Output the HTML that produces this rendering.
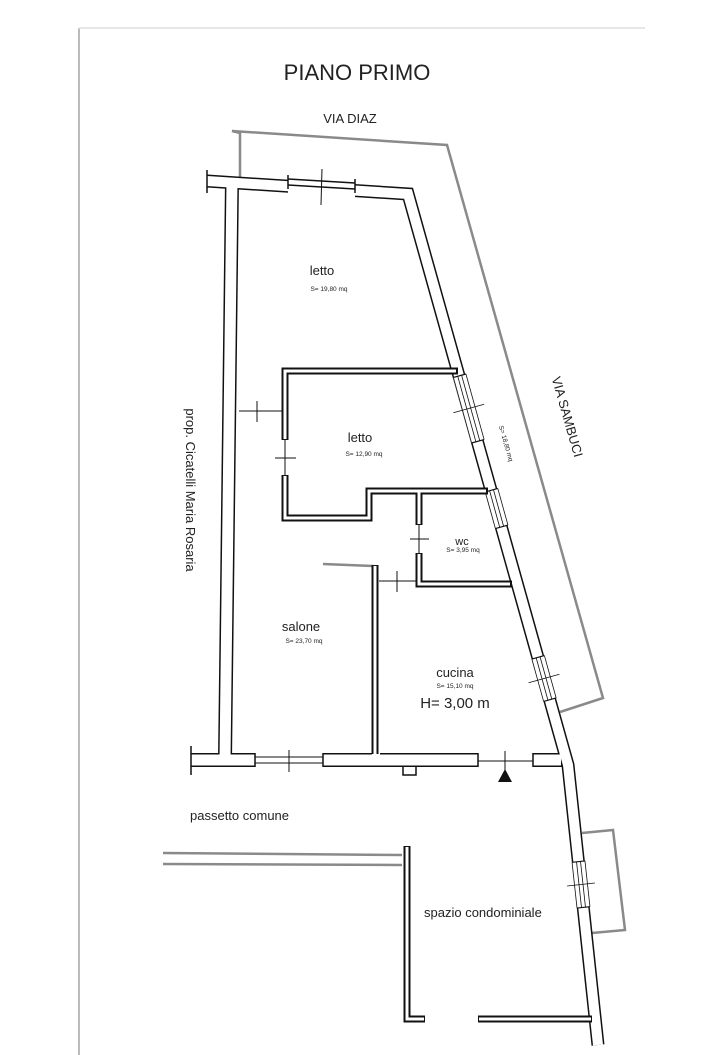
<!DOCTYPE html>
<html><head><meta charset="utf-8"><style>
html,body{margin:0;padding:0;background:#fff;}
svg{display:block;}
text{font-family:"Liberation Sans",sans-serif;fill:#222;}
</style></head><body>
<svg width="703" height="1055" viewBox="0 0 703 1055" xmlns="http://www.w3.org/2000/svg">
<rect width="703" height="1055" fill="#fff"/>
<line x1="79" y1="28" x2="79" y2="1055" stroke="#bbb" stroke-width="2"/>
<line x1="79" y1="28" x2="645" y2="28" stroke="#e6e6e6" stroke-width="2"/>

<g fill="none" stroke="#8a8a8a" stroke-width="2.5">
<polyline points="240,180 240,133 232,131 447,145 603,698 560,712"/>
<polyline points="582,833 613,830 625,930 592,933"/>
<line x1="163" y1="853" x2="402" y2="855"/>
<line x1="163" y1="864" x2="402" y2="865"/>
<line x1="323" y1="564" x2="373" y2="566"/>
</g>

<g fill="none" stroke-linejoin="miter">
<polyline points="207,181 408,194 568,765 598,1045" stroke="#111" stroke-width="13"/>
<polyline points="232,181 225,760" stroke="#111" stroke-width="14"/>
<polyline points="191,760 562,760" stroke="#111" stroke-width="14"/>
<polyline points="207,181 408,194 568,765 598,1045" stroke="#fff" stroke-width="10"/>
<polyline points="232,181 225,760" stroke="#fff" stroke-width="11"/>
<polyline points="191,760 561,760" stroke="#fff" stroke-width="11"/>
</g>
<g stroke="#111" stroke-width="1.5" fill="none">
<line x1="207" y1="170" x2="207" y2="193"/>
<line x1="191" y1="746" x2="191" y2="775"/>
<polyline points="403,767 403,775 416,775 416,767"/>
</g>

<g fill="#fff" stroke="none">
<polygon points="288,170 355,174 355,198 288,194"/>
<rect x="255" y="750" width="68" height="20"/>
<rect x="478" y="750" width="55" height="20"/>
<rect x="372" y="752" width="8" height="6"/>
</g>
<g stroke="#111" stroke-width="1.5" fill="none">
<line x1="288" y1="175" x2="288" y2="189"/><line x1="355" y1="179" x2="355" y2="193"/>
<line x1="288" y1="179" x2="355" y2="183"/><line x1="288" y1="185" x2="355" y2="189"/>
<line x1="322" y1="169" x2="321" y2="205" stroke-width="1"/>
<line x1="255" y1="753" x2="255" y2="767"/><line x1="323" y1="753" x2="323" y2="767"/>
<line x1="255" y1="757" x2="323" y2="757" stroke-width="1"/><line x1="255" y1="763" x2="323" y2="763" stroke-width="1"/>
<line x1="289" y1="750" x2="289" y2="772" stroke-width="1"/>
<line x1="478" y1="753" x2="478" y2="767"/><line x1="533" y1="753" x2="533" y2="767"/>
<line x1="478" y1="761" x2="533" y2="761" stroke-width="1"/>
<line x1="505" y1="751" x2="505" y2="771" stroke-width="1"/>
</g>
<polygon points="505,769 498,782 512,782" fill="#111"/>

<g>
<g transform="translate(468.75,408.5) rotate(-15.5)">
<rect x="-7" y="-34" width="14" height="68" fill="#fff"/>
<g stroke="#111" stroke-width="1.2"><line x1="-6.5" y1="-34" x2="6.5" y2="-34"/><line x1="-6.5" y1="34" x2="6.5" y2="34"/>
<line x1="-6.5" y1="-34" x2="-6.5" y2="34" stroke-width="0.8"/><line x1="-2" y1="-34" x2="-2" y2="34" stroke-width="0.8"/><line x1="2" y1="-34" x2="2" y2="34" stroke-width="0.8"/><line x1="6.5" y1="-34" x2="6.5" y2="34" stroke-width="0.8"/>
<line x1="-16" y1="0" x2="16" y2="0" stroke-width="0.8"/></g></g>
<g transform="translate(496.6,508.5) rotate(-15.5)">
<rect x="-7" y="-19" width="14" height="38" fill="#fff"/>
<g stroke="#111" stroke-width="1.2"><line x1="-6.5" y1="-19" x2="6.5" y2="-19"/><line x1="-6.5" y1="19" x2="6.5" y2="19"/>
<line x1="-6.5" y1="-19" x2="-6.5" y2="19" stroke-width="0.8"/><line x1="-2" y1="-19" x2="-2" y2="19" stroke-width="0.8"/><line x1="2" y1="-19" x2="2" y2="19" stroke-width="0.8"/><line x1="6.5" y1="-19" x2="6.5" y2="19" stroke-width="0.8"/></g></g>
<g transform="translate(544,678.5) rotate(-15.5)">
<rect x="-7" y="-22" width="14" height="44" fill="#fff"/>
<g stroke="#111" stroke-width="1.2"><line x1="-6.5" y1="-22" x2="6.5" y2="-22"/><line x1="-6.5" y1="22" x2="6.5" y2="22"/>
<line x1="-6.5" y1="-22" x2="-6.5" y2="22" stroke-width="0.8"/><line x1="-2" y1="-22" x2="-2" y2="22" stroke-width="0.8"/><line x1="2" y1="-22" x2="2" y2="22" stroke-width="0.8"/><line x1="6.5" y1="-22" x2="6.5" y2="22" stroke-width="0.8"/>
<line x1="-16" y1="0" x2="16" y2="0" stroke-width="0.8"/></g></g>
<g transform="translate(581,884.5) rotate(-6.2)">
<rect x="-7" y="-23" width="14" height="46" fill="#fff"/>
<g stroke="#111" stroke-width="1.2"><line x1="-6.5" y1="-23" x2="6.5" y2="-23"/><line x1="-6.5" y1="23" x2="6.5" y2="23"/>
<line x1="-6.5" y1="-23" x2="-6.5" y2="23" stroke-width="0.8"/><line x1="-2" y1="-23" x2="-2" y2="23" stroke-width="0.8"/><line x1="2" y1="-23" x2="2" y2="23" stroke-width="0.8"/><line x1="6.5" y1="-23" x2="6.5" y2="23" stroke-width="0.8"/>
<line x1="-14" y1="0" x2="14" y2="0" stroke-width="0.8"/></g></g>
</g>

<g fill="none" stroke-linejoin="miter">
<g stroke="#111" stroke-width="7">
<polyline points="458,371 285,371 285,440"/>
<polyline points="285,475 285,518 369,518 369,491 488,491"/>
<polyline points="419,491 419,525"/>
<polyline points="419,553 419,584 512,584"/>
<polyline points="375,565 375,754"/>
<polyline points="407,846 407,1019 425,1019"/>
<polyline points="478,1019 592,1019"/>
</g>
<g stroke="#fff" stroke-width="3">
<polyline points="456,371 285,371 285,439"/>
<polyline points="285,476 285,518 369,518 369,491 486,491"/>
<polyline points="419,491 419,524"/>
<polyline points="419,554 419,584 510,584"/>
<polyline points="375,566 375,754"/>
<polyline points="407,847 407,1019 424,1019"/>
<polyline points="479,1019 591,1019"/>
</g>
</g>
<g stroke="#111" stroke-width="1">
<line x1="239" y1="411" x2="282" y2="411"/><line x1="257" y1="401" x2="257" y2="422"/>
<line x1="285" y1="440" x2="285" y2="475"/><line x1="275" y1="458" x2="296" y2="458"/>
<line x1="419" y1="525" x2="419" y2="553"/><line x1="410" y1="539" x2="429" y2="539"/>
<line x1="379" y1="581" x2="416" y2="581"/><line x1="397" y1="571" x2="397" y2="592"/>
</g>

<text x="357" y="80" font-size="22" text-anchor="middle">PIANO PRIMO</text>
<text x="350" y="123" font-size="13" text-anchor="middle">VIA DIAZ</text>
<text x="322" y="275" font-size="13" text-anchor="middle">letto</text>
<text x="329" y="291" font-size="6.5" text-anchor="middle">S= 19,80 mq</text>
<text x="360" y="442" font-size="13" text-anchor="middle">letto</text>
<text x="364" y="456" font-size="6.5" text-anchor="middle">S= 12,90 mq</text>
<text x="462" y="545" font-size="11" text-anchor="middle">wc</text>
<text x="463" y="552" font-size="6.5" text-anchor="middle">S= 3,95 mq</text>
<text x="301" y="631" font-size="13" text-anchor="middle">salone</text>
<text x="304" y="643" font-size="6.5" text-anchor="middle">S= 23,70 mq</text>
<text x="455" y="677" font-size="13" text-anchor="middle">cucina</text>
<text x="455" y="688" font-size="6.5" text-anchor="middle">S= 15,10 mq</text>
<text x="455" y="708" font-size="15" text-anchor="middle">H= 3,00 m</text>
<text x="190" y="820" font-size="13">passetto comune</text>
<text x="424" y="917" font-size="13">spazio condominiale</text>
<text transform="translate(186,490) rotate(90)" font-size="13" text-anchor="middle">prop. Cicatelli Maria Rosaria</text>
<text transform="translate(563,418) rotate(74)" font-size="13" text-anchor="middle">VIA SAMBUCI</text>
<text transform="translate(504,444) rotate(74)" font-size="6.5" text-anchor="middle">S= 18,80 mq</text>
</svg>
</body></html>
